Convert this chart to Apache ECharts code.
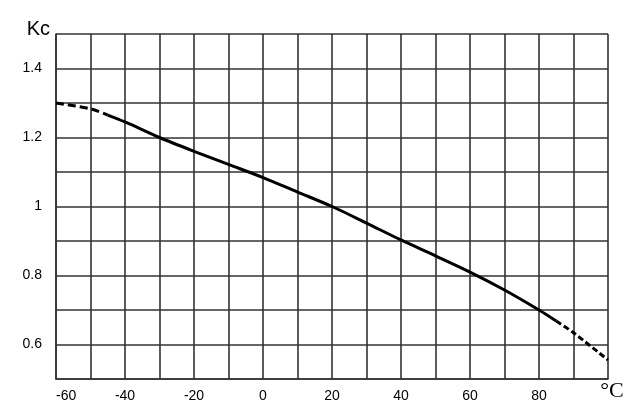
<!DOCTYPE html>
<html><head><meta charset="utf-8">
<script src="https://cdn.jsdelivr.net/npm/echarts@6/dist/echarts.min.js"></script>
<style>html,body{margin:0;padding:0;background:#fff}#c{width:640px;height:411px}</style>
</head><body><div id="c"></div>
<script>
// Temperature (°C) and Kc readings
const temps = [-60, -50, -45, -40, -30, -20, -10, 0, 10, 20, 30, 40, 50, 60, 70, 80, 85, 90, 100];
const kc    = [1.30, 1.283, 1.265, 1.245, 1.20, 1.16, 1.122, 1.084, 1.042, 1.0, 0.952, 0.903, 0.857, 0.81, 0.758, 0.70, 0.668, 0.634, 0.555];
const dashStartEnd = 2;   // index where leading dashed part ends (-45)
const dashTailStart = 16; // index where trailing dashed part starts (85)
const xTickLabels = ['-60', '-40', '-20', '0', '20', '40', '60', '80'];
const yTickLabels = ['0.6', '0.8', '1', '1.2', '1.4'];
const xUnit = '°C';
const yName = 'Kc';

const pts = temps.map((t, i) => [t, kc[i]]);
const lead = pts.slice(0, dashStartEnd + 1);
const mid = pts.slice(dashStartEnd, dashTailStart + 1);
const tail = pts.slice(dashTailStart);

const gridLine = { show: true, lineStyle: { color: '#333', width: 1.6 } };
const chart = echarts.init(document.getElementById('c'), null, { renderer: 'canvas' });
chart.setOption({
  animation: false,
  grid: { left: 56, top: 34, right: 32, bottom: 32, containLabel: false },
  xAxis: {
    type: 'value', min: -60, max: 100, interval: 10,
    axisLine: { show: true, onZero: false, lineStyle: { color: '#333', width: 1.6 } },
    axisTick: { show: false },
    splitLine: gridLine,
    axisLabel: {
      margin: 10, fontSize: 14, color: '#000', fontFamily: 'Liberation Sans, Arial, sans-serif',
      alignMinLabel: 'left',
      formatter: v => { const s = String(Math.round(v)); return xTickLabels.includes(s) ? s : ''; }
    },
    name: xUnit, nameLocation: 'end', nameGap: 4,
    nameTextStyle: { fontFamily: 'Liberation Serif, DejaVu Serif, serif', fontSize: 22, color: '#000',
      align: 'center', verticalAlign: 'top', padding: [1, 0, 0, 0] }
  },
  yAxis: {
    type: 'value', min: 0.5, max: 1.5, interval: 0.1,
    axisLine: { show: true, onZero: false, lineStyle: { color: '#333', width: 1.6 } },
    axisTick: { show: false },
    splitLine: gridLine,
    axisLabel: {
      margin: 14, fontSize: 14, color: '#000', fontFamily: 'Liberation Sans, Arial, sans-serif',
      formatter: v => { const r = Math.round(v * 10) / 10; const s = (r === 1) ? '1' : r.toFixed(1); return yTickLabels.includes(s) ? s : ''; }
    },
    name: yName, nameLocation: 'end', nameGap: 5,
    nameTextStyle: { fontFamily: 'Liberation Sans, Arial, sans-serif', fontSize: 20, color: '#000',
      align: 'right', verticalAlign: 'middle', padding: [0, 6, 0, 0] }
  },
  series: [
    { type: 'line', data: lead, smooth: 0.3, symbol: 'none', lineStyle: { color: '#000', width: 3, type: [8, 4] } },
    { type: 'line', data: mid, smooth: 0.3, symbol: 'none', lineStyle: { color: '#000', width: 3 } },
    { type: 'line', data: tail, smooth: 0.3, symbol: 'none', lineStyle: { color: '#000', width: 3, type: [6, 3] } }
  ]
});
</script></body></html>
